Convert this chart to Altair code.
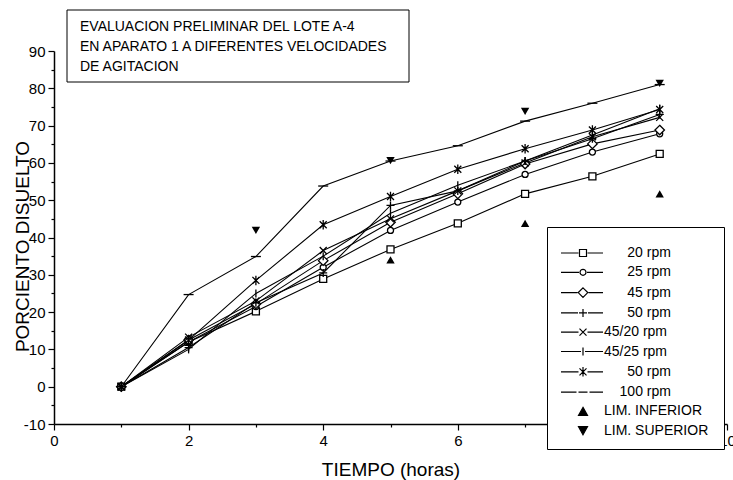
import altair as alt
import pandas as pd

# ---------------- data ----------------
t = [1, 2, 3, 4, 5, 6, 7, 8, 9]
series_names = ["20 rpm", "25 rpm", "45 rpm", "50 rpm (+)", "45/20 rpm", "45/25 rpm", "50 rpm (*)", "100 rpm"]
rpm20 = [0, 12.0, 20.2, 28.9, 36.8, 43.8, 51.7, 56.4, 62.4]
rpm25 = [0, 12.0, 21.5, 32.0, 41.9, 49.5, 56.9, 62.9, 67.8]
rpm45 = [0, 12.5, 22.2, 33.8, 44.1, 51.7, 59.7, 65.1, 68.8]
rpm50 = [0, 10.5, 22.5, 30.5, 48.6, 52.5, 60.5, 66.5, 73.0]
rpm45_20 = [0, 13.3, 23.0, 36.5, 45.0, 52.5, 60.0, 67.0, 72.2]
rpm45_25 = [0, 10.0, 25.0, 35.0, 46.5, 54.0, 60.5, 67.5, 74.5]
rpm50b = [0, 12.5, 28.5, 43.4, 51.0, 58.3, 63.8, 68.8, 74.3]
rpm100 = [0, 24.7, 34.9, 53.8, 60.5, 64.6, 71.2, 76.0, 81.0]
series_values = [rpm20, rpm25, rpm45, rpm50, rpm45_20, rpm45_25, rpm50b, rpm100]

lim_inf_t = [5, 7, 9]
lim_inf = [34.0, 43.8, 51.7]
lim_sup_t = [3, 5, 7, 9]
lim_sup = [41.9, 60.6, 73.8, 81.3]

legend_names = ["20 rpm", "25 rpm", "45 rpm", "50 rpm", "45/20 rpm", "45/25 rpm",
                "50 rpm", "100 rpm", "LIM. INFERIOR", "LIM. SUPERIOR"]
legend_pad = [6, 6, 6, 6, 0, 0, 6, 4, 0, 0]
title_lines = ["EVALUACION PRELIMINAR DEL LOTE A-4",
               "EN APARATO 1 A DIFERENTES VELOCIDADES",
               "DE AGITACION"]

# ---------------- marker glyphs ----------------
sq = "M-0.7,-0.7H0.7V0.7H-0.7Z"
circ = "M0.6,0A0.6,0.6,0,1,1,-0.6,0A0.6,0.6,0,1,1,0.6,0Z"
diam = "M0,-0.95L0.95,0L0,0.95L-0.95,0Z"
plus = "M-0.8,0H0.8M0,-0.8V0.8"
xx = "M-0.7,-0.7L0.7,0.7M-0.7,0.7L0.7,-0.7"
itk = "M0,-0.8V0.8"
ast = "M-0.7,-0.7L0.7,0.7M-0.7,0.7L0.7,-0.7M0,-0.95V0.95"
dash = "M-1,0H1"
markers = [sq, circ, diam, plus, xx, itk, ast, dash]
gaps = [0.9, 0.8, 1.1, 1.0, 0.9, 0.4, 0.9, 1.1]


def with_line(m, g):
    return "M-4.4,0H%.2fM%.2f,0H4%s" % (-g, g, m)


legend_shapes = [with_line(m, g) for m, g in zip(markers, gaps)]
legend_shapes[7] = "M-4.4,0H-1.3M-0.9,0H0.9M1.3,0H4"
legend_shapes += ["M0,-0.8L0.9,0.8L-0.9,0.8Z", "M0,0.8L0.9,-0.8L-0.9,-0.8Z"]
legend_fill = ["white"] * 8 + ["black", "black"]
legend_stroke = ["black"] * 10

NB = "\u00a0"
ZW = "\u200b"
legend_labels = []
for i, (n, p) in enumerate(zip(legend_names, legend_pad)):
    lab = (ZW + NB * p if p else "") + n
    if i == 6:
        lab += NB + ZW
    if i == 9:
        lab += NB + ZW
    legend_labels.append(lab)

# ---------------- tables ----------------
rows = []
for name, vals in zip(series_names, series_values):
    for tt, v in zip(t, vals):
        rows.append({"t": tt, "v": v, "serie": name})
df = pd.DataFrame(rows)
df_inf = pd.DataFrame({"t": lim_inf_t, "v": lim_inf})
df_sup = pd.DataFrame({"t": lim_sup_t, "v": lim_sup})
df_leg = pd.DataFrame({"t": [5] * len(legend_labels), "v": [-60] * len(legend_labels),
                       "lab": legend_labels})

FONT = "Liberation Sans"

x_axis = alt.Axis(
    values=list(range(0, 11)),
    labelExpr="datum.value % 2 === 0 ? datum.label : ''",
    tickSize={"condition": {"test": "datum.value % 2 === 0", "value": 6}, "value": 3},
    title="TIEMPO (horas)", titleFont=FONT, titleFontSize=19, titleFontWeight="normal",
    titleColor="black", titleY=45, titleBaseline="middle",
    labelFont=FONT, labelFontSize=15, labelColor="black", labelPadding=3,
    labelFlush=False, labelOverlap=False,
    domainColor="black", domainWidth=1.5, tickColor="black", tickWidth=1.2, grid=False,
)
y_axis = alt.Axis(
    values=list(range(-10, 95, 5)),
    labelExpr="datum.value % 10 === 0 ? '' + datum.value : ''",
    tickSize={"condition": {"test": "datum.value % 10 === 0", "value": 6}, "value": 3},
    title="PORCIENTO DISUELTO", titleFont=FONT, titleFontSize=19, titleFontWeight="normal",
    titleColor="black", titleX=-32, titleY=195, titleBaseline="middle", titleAlign="center",
    labelFont=FONT, labelFontSize=15, labelColor="black", labelPadding=3,
    labelFlush=False, labelOverlap=False,
    domainColor="black", domainWidth=1.5, tickColor="black", tickWidth=1.2, grid=False,
)


def X():
    return alt.X("t:Q", scale=alt.Scale(domain=[0, 10], nice=False), axis=x_axis)


def Y():
    return alt.Y("v:Q", scale=alt.Scale(domain=[-10, 90], nice=False), axis=y_axis)


lines = alt.Chart(df).mark_line(color="black", strokeWidth=1.1).encode(
    x=X(), y=Y(), detail="serie:N", order="t:Q")

points = alt.Chart(df).mark_point(fill="white", stroke="black", strokeWidth=1.3,
                                  size=100, opacity=1).encode(
    x=X(), y=Y(),
    shape=alt.Shape("serie:N", scale=alt.Scale(domain=series_names, range=markers), legend=None),
)

inf_pts = alt.Chart(df_inf).mark_point(shape="triangle-up", filled=True, color="black",
                                       size=70, opacity=1).encode(x=X(), y=Y())
sup_pts = alt.Chart(df_sup).mark_point(shape="triangle-down", filled=True, color="black",
                                       size=70, opacity=1).encode(x=X(), y=Y())

leg = alt.Legend(orient="none", legendX=493, legendY=176, title=ZW, titleFontSize=5,
                 titlePadding=3, padding=11,
                 strokeColor="black", fillColor="white", symbolSize=100,
                 symbolStrokeWidth=1.2, symbolStrokeColor="black", symbolOffset=18,
                 labelOffset=14, labelFont=FONT, labelFontSize=14, labelColor="black",
                 rowPadding=5.3, labelLimit=400)

legend_layer = alt.Chart(df_leg).mark_point(strokeWidth=1.2, size=100,
                                            opacity=1, clip=True).encode(
    x=X(), y=Y(),
    shape=alt.Shape("lab:N", scale=alt.Scale(domain=legend_labels, range=legend_shapes), legend=leg),
    fill=alt.Fill("lab:N", scale=alt.Scale(domain=legend_labels, range=legend_fill), legend=leg),
    stroke=alt.Stroke("lab:N", scale=alt.Scale(domain=legend_labels, range=legend_stroke), legend=leg),
)

box = alt.Chart(pd.DataFrame({"a": [0]})).mark_rect(
    fill="white", stroke="black", strokeWidth=1).encode(
    x=alt.value(13), x2=alt.value(355), y=alt.value(-41), y2=alt.value(31))

title_txt = alt.Chart(pd.DataFrame({"a": [0]})).mark_text(
    align="left", baseline="top", font=FONT, fontSize=14, lineHeight=20,
    lineBreak="\n", color="black").encode(
    x=alt.value(26), y=alt.value(-31), text=alt.value("\n".join(title_lines)))

chart = alt.layer(box, title_txt, lines, points, inf_pts, sup_pts, legend_layer).resolve_scale(
    shape="independent", fill="independent", stroke="independent"
).properties(
    width=673, height=373,
    autosize=alt.AutoSizeParams(type="none"),
    padding={"left": 54, "top": 51, "right": 6, "bottom": 56},
    background="white",
).configure_view(stroke=None)

chart.save("out.html", embed_options={"renderer": "svg", "actions": False})
